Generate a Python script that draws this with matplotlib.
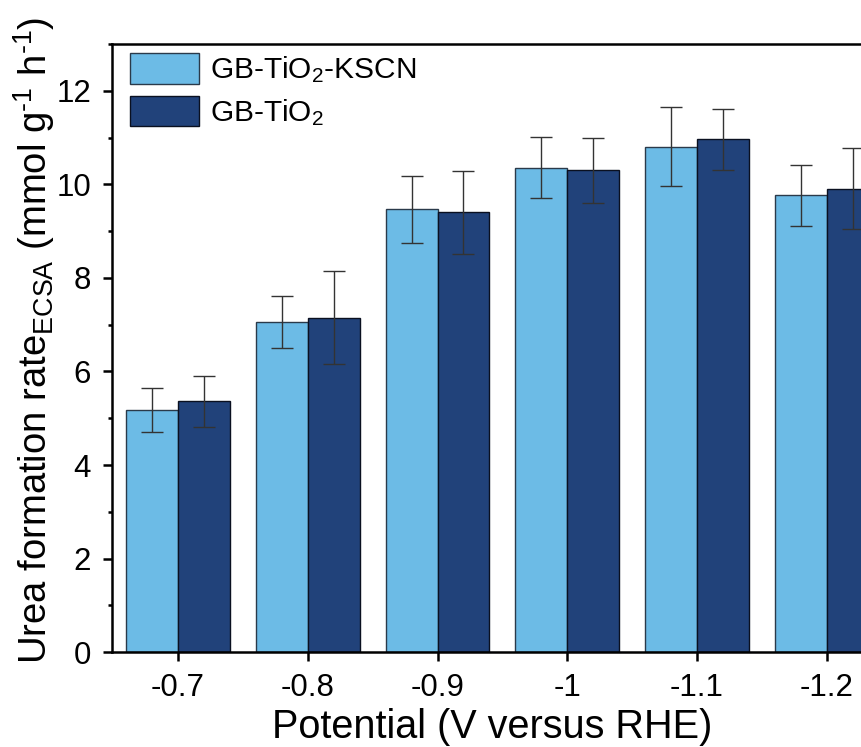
import matplotlib
matplotlib.use("Agg")
import matplotlib.pyplot as plt
from matplotlib.ticker import MultipleLocator
import numpy as np

plt.rcParams['font.family'] = ['Liberation Sans', 'DejaVu Sans']
plt.rcParams['mathtext.fontset'] = 'custom'
plt.rcParams['mathtext.rm'] = 'Liberation Sans'
plt.rcParams['mathtext.it'] = 'Liberation Sans:italic'
plt.rcParams['mathtext.bf'] = 'Liberation Sans:bold'

categories = ["-0.7", "-0.8", "-0.9", "-1", "-1.1", "-1.2"]
kscn_vals = [5.17, 7.06, 9.47, 10.36, 10.81, 9.77]
kscn_err = [0.47, 0.56, 0.72, 0.65, 0.85, 0.65]
tio2_vals = [5.36, 7.15, 9.40, 10.30, 10.96, 9.91]
tio2_err = [0.54, 0.99, 0.88, 0.69, 0.65, 0.86]
labels = ["GB-TiO$_2$-KSCN", "GB-TiO$_2$"]

fig = plt.figure(figsize=(8.61, 7.47), dpi=100)
ax = fig.add_axes([0.130, 0.127, 0.907, 0.814])

x = np.arange(len(categories))
w = 0.4
light = '#6CBBE6'
dark = '#21427A'
ax.bar(x - w/2, kscn_vals, w, color=light, edgecolor='#2a3a4a', linewidth=1.0, label=labels[0], zorder=2)
ax.bar(x + w/2, tio2_vals, w, color=dark, edgecolor='#0a1020', linewidth=1.0, label=labels[1], zorder=2)
ax.errorbar(x - w/2, kscn_vals, yerr=kscn_err, fmt='none', ecolor='#333333', elinewidth=1.0, capsize=8, capthick=1.0, zorder=3)
ax.errorbar(x + w/2, tio2_vals, yerr=tio2_err, fmt='none', ecolor='#333333', elinewidth=1.0, capsize=8, capthick=1.0, zorder=3)

ax.set_xlim(-0.51, 5.51)
ax.set_ylim(0, 13)
ax.set_xticks(x)
ax.set_xticklabels(categories)
ax.set_yticks([0, 2, 4, 6, 8, 10, 12])
ax.yaxis.set_minor_locator(MultipleLocator(1))

for s in ax.spines.values():
    s.set_linewidth(1.8)
ax.tick_params(axis='both', which='major', direction='out', length=6.5, width=1.8, labelsize=22.5, pad=8.5)
ax.tick_params(axis='y', which='minor', direction='out', length=3, width=1.8)

ax.set_xlabel("Potential (V versus RHE)", fontsize=28.5)
ax.xaxis.set_label_coords(0.487, -0.092)
ax.set_ylabel("Urea formation rate$_{\\rm ECSA}$ (mmol g$^{\\text{-}1}$ h$^{\\text{-}1}$)", fontsize=27.5)
ax.yaxis.set_label_coords(-0.070, 0.513)

leg = ax.legend(loc='upper left', bbox_to_anchor=(0.0115, 1.0), frameon=False, fontsize=21.5,
                handlelength=2.33, handleheight=1.2, borderpad=0.3, borderaxespad=0.0,
                handletextpad=0.35, labelspacing=0.35)

fig.savefig("out.png", dpi=100)
